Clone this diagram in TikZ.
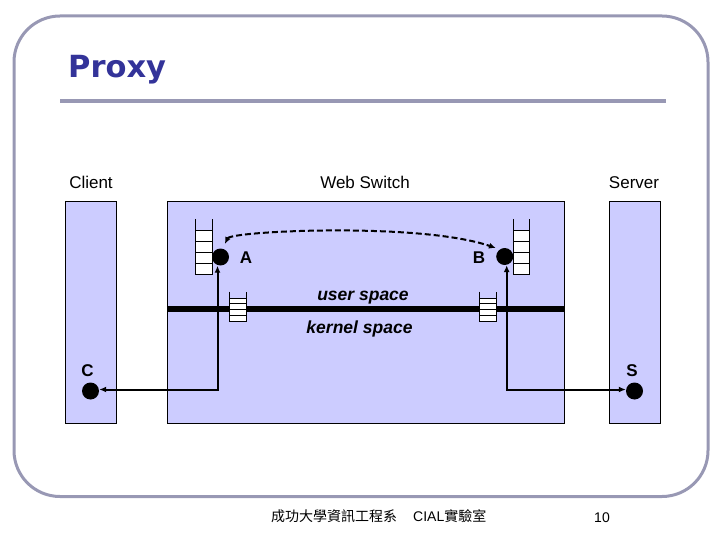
\documentclass[tikz,border=0pt]{standalone}
\usepackage{fontspec}
\setmainfont{Liberation Sans}
\newfontfamily\cjk{Noto Sans CJK TC}
\newfontfamily\titlefont{DejaVu Sans}
\usetikzlibrary{arrows.meta}
\definecolor{framegray}{RGB}{152,152,180}
\definecolor{titleblue}{RGB}{51,51,153}
\definecolor{boxfill}{RGB}{204,204,255}
\begin{document}
\begin{tikzpicture}[x=1pt,y=-1pt,
  hostbox/.style={draw=black,line width=1pt,fill=boxfill},
  lbl/.style={font=\fontsize{17}{20}\selectfont,anchor=base,inner sep=0pt},
  ltr/.style={font=\bfseries\fontsize{17}{20}\selectfont,anchor=base,inner sep=0pt},
  spacelbl/.style={font=\bfseries\itshape\fontsize{17.5}{20}\selectfont,anchor=base,inner sep=0pt},
  sock/.style={circle,fill=black,draw=none,minimum size=17pt,inner sep=0pt},
  tip/.style={Latex[length=7pt,width=6pt]},
  conn/.style={line width=2pt,{Latex[length=7pt,width=6pt]}-{Latex[length=7pt,width=6pt]}},
  cell/.style={draw=black,line width=0.8pt,fill=white}
]
\useasboundingbox (0,0) rectangle (720,540);
% frame
\draw[framegray,line width=3pt,rounded corners=46pt] (14,16) rectangle (708,496.5);
\node[font=\titlefont\bfseries\fontsize{30.5}{34}\selectfont,text=titleblue,anchor=base west,inner sep=0pt] (title) at (68,78) {Proxy};
\draw[framegray,line width=4pt] (60,101.5) -- (666,101.5);

% column labels
\node[lbl] (lclient) at (91,188.5) {Client};
\node[lbl] (lweb) at (365,188.5) {Web Switch};
\node[lbl] (lserver) at (634,188.5) {Server};

% boxes
\node[hostbox,minimum width=51pt,minimum height=221pt,inner sep=0pt] (client) at (90.5,312.5) {};
\node[hostbox,minimum width=397pt,minimum height=221pt,inner sep=0pt] (web) at (365.8,312.5) {};
\node[hostbox,minimum width=51pt,minimum height=221pt,inner sep=0pt] (server) at (635,312.5) {};

% user/kernel bar
\draw[line width=6pt] (web.west |- 0,309) coordinate (barL) -- (web.east |- 0,309) coordinate (barR);

% big stacks
\foreach \x/\n in {195.7/sa,513.3/sb}{
  \fill[white] (\x,230.7) rectangle (\x+16.5,274.3);
  \draw[line width=0.9pt] (\x,219) -- (\x,274.3) -- (\x+16.5,274.3) -- (\x+16.5,219);
  \foreach \y in {230.7,241.7,252.7,263.3}{\draw[line width=0.9pt] (\x,\y) -- (\x+16.5,\y);}
}
% small stacks
\foreach \x in {229.5,479.5}{
  \fill[white] (\x,298) rectangle (\x+17,321);
  \draw[line width=0.9pt] (\x,291.7) -- (\x,321) -- (\x+17,321) -- (\x+17,291.7);
  \foreach \y in {298,303.75,309.5,315.25}{\draw[line width=0.9pt] (\x,\y) -- (\x+17,\y);}
}

% sockets
\node[sock] (A) at (220.5,257) {};
\node[sock] (B) at (504.7,256.5) {};
\node[sock] (C) at (90.5,391) {};
\node[sock] (S) at (634.5,391) {};

\node[ltr] (la) at (246,263) {A};
\node[ltr] (lb) at (479,263) {B};
\node[ltr] (lc) at (87.5,376) {C};
\node[ltr] (ls) at (632,376) {S};

\node[spacelbl] (us) at (363,300.7) {user space};
\node[spacelbl] (ks) at (359.5,333.3) {kernel space};

% connectors
\coordinate (cA) at (217.5,389.5);
\coordinate (cB) at (506.7,389.5);
\draw[conn] (C.east |- cA) -- (cA) -- (cA |- A.south);
\draw[conn] (S.west |- cB) -- (cB) -- (cB |- B.south);
\draw[line width=2pt,dash pattern=on 6pt off 3pt,{Latex[length=7pt,width=6pt]}-{Latex[length=7pt,width=6pt]},shorten <=5pt,shorten >=4pt]
  (A.75) .. controls (231,231) and (420,222) .. (B.125);

% footer
\node[anchor=base west,inner sep=0pt,font=\fontsize{14}{16}\selectfont] (foot) at (271,521.7)
  {{\cjk 成功大學資訊工程系}\hspace{16pt}CIAL{\cjk 實驗室}};
\node[anchor=base,inner sep=0pt,font=\fontsize{14}{16}\selectfont] (pg) at (602,522) {10};
\end{tikzpicture}
\end{document}
